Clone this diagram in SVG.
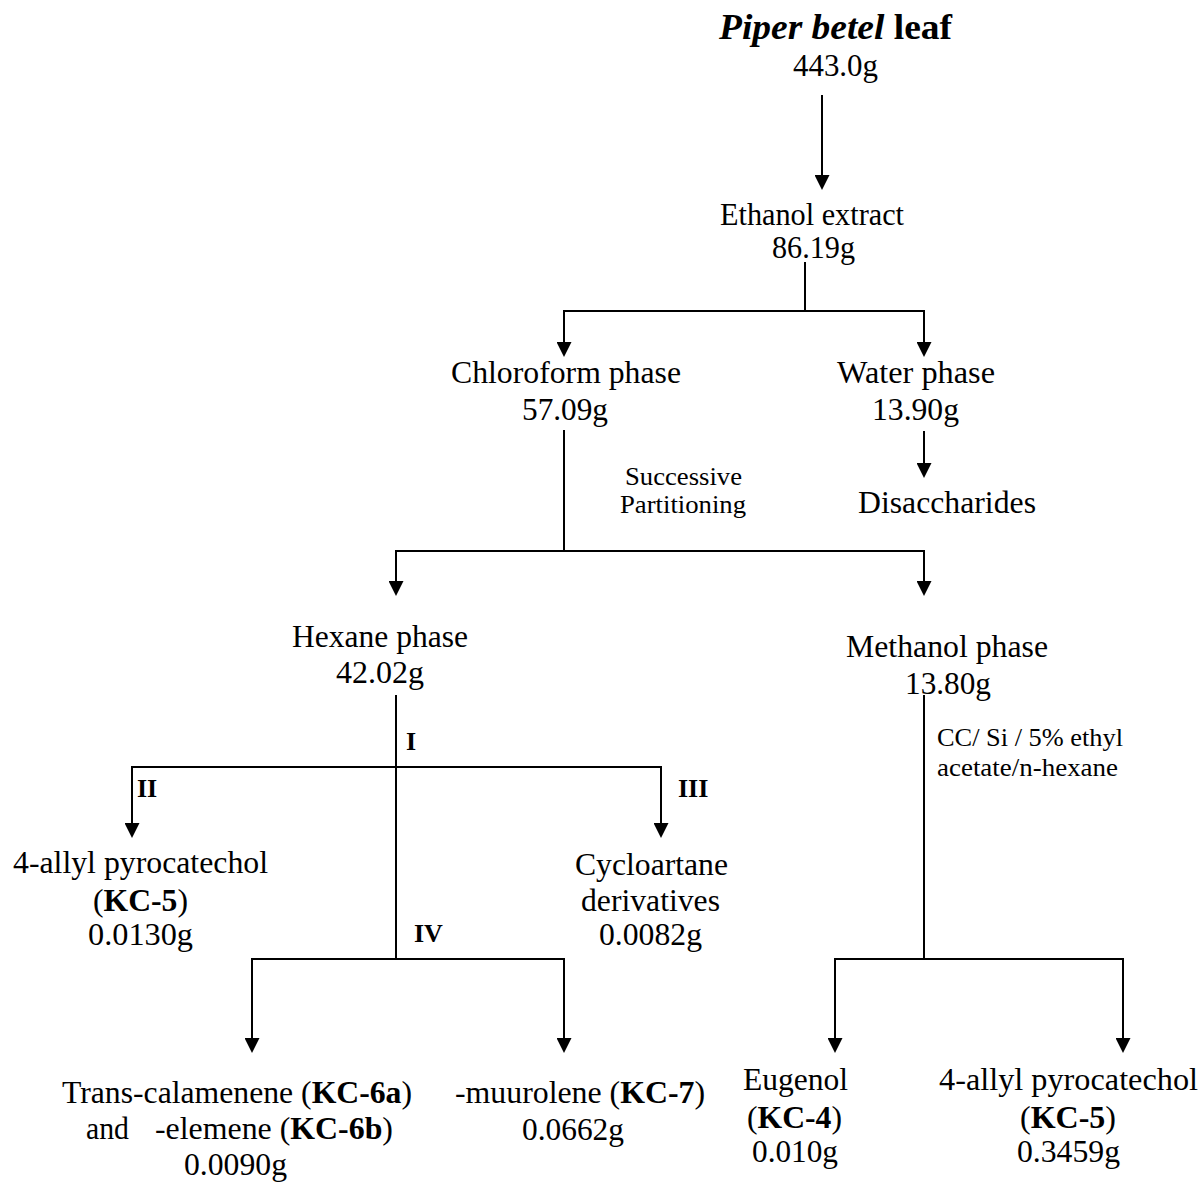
<svg xmlns="http://www.w3.org/2000/svg" width="1201" height="1182" viewBox="0 0 1201 1182">
<defs>
<style>
text{font-family:"Liberation Serif","Times New Roman",serif;font-size:31px;fill:#000}
.sm{font-size:26px}
.b{font-weight:bold}
.conn path{fill:none;stroke:#000;stroke-width:2}
.arr{marker-end:url(#ah)}
</style>
<marker id="ah" viewBox="0 0 15 15" refX="5" refY="7.5" markerWidth="15" markerHeight="15" markerUnits="userSpaceOnUse" orient="auto">
<path d="M0,0 L15,7.5 L0,15 z" fill="#000"/>
</marker>
</defs>
<rect width="1201" height="1182" fill="#fff"/>

<g id="connectors" class="conn">
<path class="arr" d="M822,95 V180"/>
<path d="M805,262 V311"/>
<path class="arr" d="M805,311 H564 V347"/>
<path class="arr" d="M805,311 H924 V347"/>
<path class="arr" d="M924,431 V468"/>
<path d="M564,430 V551"/>
<path class="arr" d="M564,551 H396 V586"/>
<path class="arr" d="M564,551 H924 V586"/>
<path d="M396,695 V959"/>
<path class="arr" d="M396,767 H132 V828"/>
<path class="arr" d="M396,767 H661 V828"/>
<path class="arr" d="M396,959 H252 V1043"/>
<path class="arr" d="M396,959 H564 V1043"/>
<path d="M924,695 V959"/>
<path class="arr" d="M924,959 H835 V1043"/>
<path class="arr" d="M924,959 H1123 V1043"/>
</g>

<g id="n-piper">
<text x="719" y="39" style="font-size:36px" class="b" textLength="233" lengthAdjust="spacingAndGlyphs"><tspan font-style="italic">Piper betel</tspan> leaf</text>
<text x="793" y="76" textLength="85" lengthAdjust="spacingAndGlyphs">443.0g</text>
</g>
<g id="n-ethanol">
<text x="720" y="225" textLength="184" lengthAdjust="spacingAndGlyphs">Ethanol extract</text>
<text x="772" y="258" textLength="83" lengthAdjust="spacingAndGlyphs">86.19g</text>
</g>
<g id="n-chloroform">
<text x="451" y="383" textLength="230" lengthAdjust="spacingAndGlyphs">Chloroform phase</text>
<text x="522" y="420" textLength="86" lengthAdjust="spacingAndGlyphs">57.09g</text>
</g>
<g id="n-water">
<text x="837" y="383" textLength="158" lengthAdjust="spacingAndGlyphs">Water phase</text>
<text x="872" y="420" textLength="87" lengthAdjust="spacingAndGlyphs">13.90g</text>
</g>
<g id="n-disaccharides">
<text x="858" y="513" textLength="178" lengthAdjust="spacingAndGlyphs">Disaccharides</text>
</g>
<g id="n-hexane">
<text x="292" y="647" textLength="176" lengthAdjust="spacingAndGlyphs">Hexane phase</text>
<text x="336" y="683" textLength="88" lengthAdjust="spacingAndGlyphs">42.02g</text>
</g>
<g id="n-methanol">
<text x="846" y="657" textLength="202" lengthAdjust="spacingAndGlyphs">Methanol phase</text>
<text x="905" y="694" textLength="86" lengthAdjust="spacingAndGlyphs">13.80g</text>
</g>
<g id="n-kc5-left">
<text x="13" y="873" textLength="255" lengthAdjust="spacingAndGlyphs">4-allyl pyrocatechol</text>
<text x="93" y="911" textLength="95" lengthAdjust="spacingAndGlyphs">(<tspan class="b">KC-5</tspan>)</text>
<text x="88" y="945" textLength="105" lengthAdjust="spacingAndGlyphs">0.0130g</text>
</g>
<g id="n-cycloartane">
<text x="575" y="875" textLength="153" lengthAdjust="spacingAndGlyphs">Cycloartane</text>
<text x="581" y="911" textLength="139" lengthAdjust="spacingAndGlyphs">derivatives</text>
<text x="599" y="945" textLength="103" lengthAdjust="spacingAndGlyphs">0.0082g</text>
</g>
<g id="n-kc6">
<text x="62" y="1103" textLength="350" lengthAdjust="spacingAndGlyphs">Trans-calamenene (<tspan class="b">KC-6a</tspan>)</text>
<text x="86" y="1139" textLength="43" lengthAdjust="spacingAndGlyphs">and</text>
<text x="155" y="1139" textLength="238" lengthAdjust="spacingAndGlyphs">-elemene (<tspan class="b">KC-6b</tspan>)</text>
<text x="184" y="1175" textLength="103" lengthAdjust="spacingAndGlyphs">0.0090g</text>
</g>
<g id="n-kc7">
<text x="455" y="1103" textLength="250" lengthAdjust="spacingAndGlyphs">-muurolene (<tspan class="b">KC-7</tspan>)</text>
<text x="522" y="1140" textLength="102" lengthAdjust="spacingAndGlyphs">0.0662g</text>
</g>
<g id="n-kc4">
<text x="743" y="1090" textLength="105" lengthAdjust="spacingAndGlyphs">Eugenol</text>
<text x="747" y="1128" textLength="95" lengthAdjust="spacingAndGlyphs">(<tspan class="b">KC-4</tspan>)</text>
<text x="752" y="1162" textLength="86" lengthAdjust="spacingAndGlyphs">0.010g</text>
</g>
<g id="n-kc5-right">
<text x="939" y="1090" textLength="259" lengthAdjust="spacingAndGlyphs">4-allyl pyrocatechol</text>
<text x="1020" y="1128" textLength="96" lengthAdjust="spacingAndGlyphs">(<tspan class="b">KC-5</tspan>)</text>
<text x="1017" y="1162" textLength="103" lengthAdjust="spacingAndGlyphs">0.3459g</text>
</g>

<g id="edge-labels">
<text class="sm" x="625" y="485" textLength="117" lengthAdjust="spacingAndGlyphs">Successive</text>
<text class="sm" x="620" y="513" textLength="126" lengthAdjust="spacingAndGlyphs">Partitioning</text>
<text class="sm b" x="406" y="750">I</text>
<text class="sm b" x="137" y="797">II</text>
<text class="sm b" x="678" y="797">III</text>
<text class="sm b" x="414" y="942">IV</text>
<text class="sm" x="937" y="746" textLength="186" lengthAdjust="spacingAndGlyphs">CC/ Si / 5% ethyl</text>
<text class="sm" x="937" y="776" textLength="181" lengthAdjust="spacingAndGlyphs">acetate/n-hexane</text>
</g>
</svg>
